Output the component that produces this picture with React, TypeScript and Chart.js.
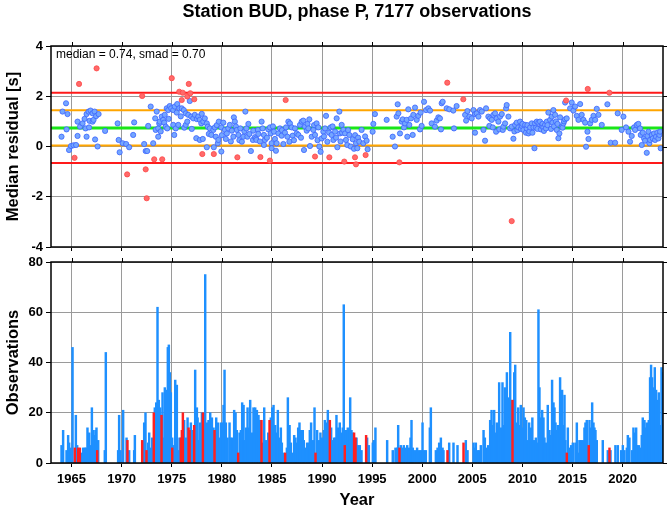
import React, { useEffect, useRef } from 'react';
import { Chart, registerables } from 'chart.js';

Chart.register(...registerables);

const FONT = "'Liberation Sans', Arial, Helvetica, sans-serif";

const titleText = 'Station BUD, phase P, 7177 observations';
const residualAxisTitle = 'Median residual [s]';
const countAxisTitle = 'Observations';
const yearAxisTitle = 'Year';

const medianValue = 0.74;
const smadValue = 0.7;

const yearTicks = [1965, 1970, 1975, 1980, 1985, 1990, 1995, 2000, 2005, 2010, 2015, 2020];
const xMin = 1962.95;
const xMax = 2024.03;

// ---- median residuals (year, seconds) ----
const blueResiduals1960s = [
  [1964.0, 0.39], [1964.1, 1.39], [1964.45, 1.72], [1964.5, 0.68], [1964.6, 1.29], [1964.75, -0.14],
  [1964.95, 0.02], [1965.2, 0.05], [1965.45, 0.06], [1965.6, 0.99], [1965.6, 0.42], [1965.85, 0.79],
  [1966.1, 0.92], [1966.3, 1.1], [1966.4, 0.72], [1966.5, 1.29], [1966.5, 0.39], [1966.7, 1.39],
  [1966.75, 0.76], [1966.8, 1.02], [1966.9, 1.43], [1967.1, 1.32], [1967.1, 0.99], [1967.2, 1.06],
  [1967.3, 1.39], [1967.35, 0.28], [1967.45, 1.21], [1967.6, 0.0], [1967.7, 1.29], [1968.35, 0.62],
  [1969.6, 0.92], [1969.7, 0.26], [1969.8, -0.23],
];
const blueResiduals1970s = [
  [1970.1, 0.13], [1970.45, 0.1], [1970.75, -0.03], [1971.15, 0.46], [1971.25, 0.96], [1972.25, 0.1],
  [1972.4, -0.18], [1972.55, -0.18], [1972.65, 0.82], [1972.9, 1.59], [1973.15, 0.13], [1973.35, 1.12],
  [1973.4, 0.66], [1973.5, 1.39], [1973.65, 0.39], [1973.65, 0.72], [1973.75, 0.92], [1973.8, 0.99],
  [1973.9, 0.6], [1974.0, 1.19], [1974.15, 1.06], [1974.25, 0.95], [1974.3, 1.26], [1974.4, 0.79],
  [1974.5, 1.52], [1974.55, 0.72], [1974.65, 1.45], [1974.7, 1.1], [1974.8, 1.61], [1974.95, 1.52],
  [1975.15, 1.45], [1975.15, 0.86], [1975.25, 0.46], [1975.3, 1.59], [1975.4, 0.72], [1975.5, 1.35],
  [1975.55, 1.69], [1975.65, 0.86], [1975.75, 1.52], [1975.9, 1.2], [1976.0, 1.52], [1976.2, 1.45],
  [1976.25, 0.75], [1976.4, 1.32], [1976.4, 0.86], [1976.55, 0.99], [1976.65, 1.26], [1976.8, 1.81],
  [1976.95, 1.19], [1977.0, 0.7], [1977.15, 1.12], [1977.3, 1.26], [1977.45, 0.33], [1977.5, 1.09],
  [1977.65, 1.19], [1977.8, 1.06], [1977.8, 0.26], [1977.95, 0.92], [1978.0, 1.3], [1978.1, 0.3],
  [1978.15, 0.99], [1978.3, 1.12], [1978.5, 0.92], [1978.5, -0.03], [1978.6, 0.79], [1978.7, 0.5],
  [1978.8, 0.72], [1978.95, 0.46], [1979.15, 0.66], [1979.2, -0.03], [1979.3, 0.76], [1979.4, 0.39],
  [1979.5, 0.85], [1979.6, 0.13], [1979.65, 0.26], [1979.7, 0.99], [1979.95, 0.76], [1979.95, -0.2],
];
const blueResiduals1980s = [
  [1980.0, 0.45], [1980.15, 0.95], [1980.3, 0.66], [1980.4, 0.3], [1980.5, 0.52], [1980.65, 0.72],
  [1980.8, 0.86], [1980.9, 0.2], [1981.0, 0.63], [1981.15, 0.39], [1981.2, 1.16], [1981.3, 0.99],
  [1981.4, 0.8], [1981.5, 0.66], [1981.65, 0.46], [1981.75, 0.25], [1981.85, 0.72], [1982.0, 0.19],
  [1982.15, 0.39], [1982.25, 0.6], [1982.35, 1.39], [1982.45, 0.72], [1982.55, 0.39], [1982.65, 0.9],
  [1982.75, 0.5], [1982.9, -0.18], [1983.1, 0.26], [1983.14, 0.63], [1983.3, 0.37], [1983.41, 0.32],
  [1983.45, 0.26], [1983.6, 0.66], [1983.64, 0.5], [1983.8, 0.2], [1983.97, 0.99], [1984.07, 0.72],
  [1984.2, 0.46], [1984.2, 0.06], [1984.3, 0.26], [1984.5, 0.35], [1984.64, 0.68], [1984.8, 0.76],
  [1984.87, 0.52], [1984.97, 0.13], [1984.97, -0.07], [1985.1, 0.8], [1985.2, 0.59], [1985.3, 0.3],
  [1985.4, -0.17], [1985.47, 0.13], [1985.64, 0.52], [1985.8, 0.72], [1985.97, 0.43], [1986.0, 0.65],
  [1986.14, 0.1], [1986.3, 0.55], [1986.4, 0.76], [1986.54, 0.39], [1986.64, 0.99], [1986.74, 0.19],
  [1986.8, 0.92], [1986.97, 0.76], [1987.07, 0.43], [1987.2, 0.25], [1987.3, 0.72], [1987.47, 0.52],
  [1987.64, 0.46], [1987.8, 0.86], [1987.9, 0.35], [1987.97, 0.99], [1988.13, 1.03], [1988.2, -0.14],
  [1988.3, 0.79], [1988.47, 0.63], [1988.55, 0.9], [1988.63, 0.72], [1988.73, 1.08], [1988.8, 0.02],
  [1988.97, 0.39], [1989.13, 0.66], [1989.2, 0.85], [1989.3, 0.46], [1989.46, 0.92], [1989.55, 0.25],
  [1989.63, 0.76], [1989.73, 0.0], [1989.86, -0.21], [1989.96, 0.32],
];
const blueResiduals1990s = [
  [1990.13, 0.59], [1990.2, 0.4], [1990.3, 0.72], [1990.4, 1.22], [1990.53, 0.19], [1990.7, 0.55],
  [1990.86, 0.76], [1990.96, 0.46], [1991.05, 0.8], [1991.13, 0.26], [1991.3, 0.59], [1991.4, 0.35],
  [1991.46, 1.12], [1991.53, -0.03], [1991.73, 1.39], [1991.79, 0.52], [1991.85, 0.2], [1991.96, 0.86],
  [1992.0, 0.55], [1992.13, 0.66], [1992.3, 0.52], [1992.39, 0.26], [1992.52, 0.06], [1992.6, 0.65],
  [1992.72, 0.46], [1992.86, 0.0], [1993.06, 0.29], [1993.19, -0.09], [1993.3, 0.45], [1993.39, 0.13],
  [1993.52, -0.07], [1993.6, 0.35], [1993.72, 0.19], [1993.95, 0.66], [1994.12, 0.13], [1994.3, 0.4],
  [1994.45, 0.23], [1994.55, -0.11], [1995.05, 0.59], [1995.12, 0.9], [1995.28, 1.29], [1996.45, 1.06],
  [1997.05, 0.39], [1997.28, 0.0], [1997.45, 1.19], [1997.55, 1.68], [1997.62, 1.32], [1997.78, 0.52],
  [1997.95, 0.99], [1998.05, 1.08], [1998.18, 0.76], [1998.28, 0.92], [1998.45, 1.06], [1998.51, 0.39],
  [1998.61, 1.48], [1998.71, 0.86], [1998.88, 1.12], [1999.05, 0.46], [1999.11, 1.26], [1999.28, 1.55],
  [1999.45, 1.06], [1999.61, 1.22], [1999.78, 0.68], [1999.84, 1.35], [1999.94, 0.82],
];
const blueResiduals2000s = [
  [2000.18, 1.78], [2000.38, 1.45], [2000.61, 1.52], [2000.78, 1.43], [2000.94, 0.92], [2001.27, 0.79],
  [2001.44, 1.03], [2001.61, 1.16], [2001.77, 1.12], [2001.87, 0.68], [2001.94, 1.72], [2002.04, 1.78],
  [2002.44, 1.52], [2002.7, 1.48], [2003.1, 1.43], [2003.17, 0.72], [2003.43, 1.61], [2004.28, 1.26],
  [2004.38, 1.03], [2004.51, 1.41], [2004.71, 1.19], [2004.94, 1.12], [2005.11, 1.45], [2005.27, 1.29],
  [2005.27, 0.55], [2005.44, 1.32], [2005.61, 1.19], [2005.77, 1.45], [2005.94, 1.39], [2006.11, 0.66],
  [2006.27, 0.23], [2006.37, 1.52], [2006.6, 1.19], [2006.7, 0.82], [2006.77, 1.12], [2006.94, 1.06],
  [2007.04, 0.76], [2007.1, 1.26], [2007.27, 1.32], [2007.37, 0.59], [2007.44, 1.12], [2007.6, 0.99],
  [2007.7, 0.68], [2007.77, 1.19], [2007.94, 1.29], [2008.04, 0.66], [2008.1, 0.79], [2008.27, 0.92],
  [2008.37, 1.52], [2008.43, 1.65], [2008.6, 1.19], [2008.77, 0.72], [2008.93, 0.79], [2009.1, 0.31],
  [2009.2, 0.6], [2009.27, 0.86], [2009.43, 0.95], [2009.5, 0.65], [2009.6, 0.76], [2009.77, 0.99],
  [2009.85, 0.7], [2009.93, 0.82],
];
const blueResiduals2010s = [
  [2010.0, 0.9], [2010.1, 0.66], [2010.27, 0.86], [2010.35, 0.55], [2010.43, 0.72], [2010.5, 0.85],
  [2010.6, 0.52], [2010.7, 0.6], [2010.77, 0.76], [2010.93, 0.92], [2011.0, 0.55], [2011.1, 0.76],
  [2011.2, -0.07], [2011.26, 0.92], [2011.35, 0.75], [2011.43, 0.99], [2011.5, 0.7], [2011.6, 0.95],
  [2011.76, 0.99], [2011.85, 0.68], [2011.93, 0.82], [2012.0, 0.9], [2012.09, 0.76], [2012.15, 0.62],
  [2012.26, 0.86], [2012.35, 0.72], [2012.43, 0.99], [2012.5, 0.85], [2012.59, 1.35], [2012.76, 1.06],
  [2012.85, 0.7], [2012.93, 1.19], [2013.0, 0.95], [2013.09, 1.45], [2013.15, 0.8], [2013.26, 1.26],
  [2013.35, 1.0], [2013.43, 0.66], [2013.5, 0.9], [2013.59, 0.33], [2013.69, 0.52], [2013.76, 1.16],
  [2013.93, 0.79], [2014.0, 0.75], [2014.09, 0.92], [2014.15, 1.0], [2014.26, 1.08], [2014.26, 1.75],
  [2014.42, 1.12], [2014.76, 1.52], [2014.92, 1.75], [2015.09, 1.43], [2015.26, 1.59], [2015.42, 1.22],
  [2015.59, 1.06], [2015.76, 1.69], [2015.92, 1.26], [2016.09, 1.06], [2016.26, 0.95], [2016.35, -0.01],
  [2016.49, 0.59], [2016.59, 0.3], [2016.76, 0.92], [2016.92, 1.06], [2017.09, 1.22], [2017.26, 1.06],
  [2017.42, 1.5], [2017.59, 1.26], [2017.92, 0.86], [2018.48, 1.68], [2018.81, 0.15], [2019.25, 0.15],
  [2019.51, 1.32], [2019.91, 0.66],
];
const blueResiduals2020s = [
  [2020.08, 1.19], [2020.34, 0.76], [2020.58, 0.59], [2020.74, 0.19], [2020.91, 0.42], [2021.14, 0.76],
  [2021.24, 0.66], [2021.41, 0.86], [2021.57, 0.9], [2021.74, 0.72], [2021.81, 0.46], [2021.91, 0.06],
  [2022.01, 0.55], [2022.14, 0.32], [2022.24, 0.23], [2022.41, -0.25], [2022.48, 0.42], [2022.58, 0.59],
  [2022.67, 0.13], [2022.74, 0.26], [2022.91, 0.46], [2023.01, 0.32], [2023.14, 0.52], [2023.24, 0.26],
  [2023.34, 0.39], [2023.47, 0.55], [2023.57, 0.32], [2023.67, 0.46], [2023.74, 0.59], [2023.8, -0.07],
];
const redResiduals = [
  [1965.3, -0.45], [1965.75, 2.49], [1967.5, 3.11], [1970.55, -1.11], [1972.05, 2.01], [1972.4, -0.91],
  [1972.5, -2.06], [1973.25, -0.51], [1974.05, -0.51], [1975.0, 2.72], [1975.75, 2.18], [1976.0, 1.85],
  [1976.1, 2.14], [1976.55, 1.99], [1976.7, 2.49], [1976.85, 2.12], [1977.25, 1.88], [1978.05, -0.3],
  [1979.2, -0.3], [1981.55, -0.43], [1983.85, -0.42], [1984.8, -0.56], [1986.37, 1.85], [1989.3, -0.4],
  [1990.73, -0.43], [1992.22, -0.6], [1993.29, -0.43], [1993.39, -0.71], [1994.35, -0.34], [1997.72, -0.63],
  [2002.5, 2.54], [2004.1, 1.88], [2008.93, -2.97], [2014.36, 1.83], [2016.52, 2.29], [2018.68, 2.14],
];

// ---- observation counts per bin (year, count) ----
const counts1960s = [
  [1964.0, 7], [1964.16, 13], [1964.5, 5], [1964.66, 11], [1964.76, 8], [1964.9, 6], [1965.1, 46],
  [1965.43, 19], [1965.56, 7], [1965.93, 4], [1966.16, 6], [1966.33, 6], [1966.43, 6], [1966.59, 14],
  [1966.76, 12], [1966.93, 7], [1967.03, 22], [1967.16, 13], [1967.26, 11], [1967.39, 13], [1967.49, 14],
  [1967.66, 9], [1968.32, 5], [1968.42, 44], [1969.65, 5], [1969.75, 19], [1969.89, 5],
];
const counts1970s = [
  [1970.15, 21], [1970.49, 10], [1970.75, 5], [1971.25, 5], [1971.32, 11], [1972.25, 16], [1972.38, 20],
  [1972.65, 8], [1972.75, 12], [1972.88, 6], [1973.05, 10], [1973.31, 22], [1973.45, 24], [1973.58, 62],
  [1973.71, 25], [1973.85, 22], [1974.08, 28], [1974.18, 10], [1974.31, 30], [1974.41, 29], [1974.51, 27],
  [1974.61, 46], [1974.71, 47], [1974.81, 36], [1974.91, 28], [1975.04, 10], [1975.14, 7], [1975.35, 33],
  [1975.51, 31], [1975.68, 5], [1975.78, 10], [1976.24, 17], [1976.44, 10], [1976.58, 18], [1976.91, 16],
  [1977.11, 13], [1977.34, 37], [1977.51, 22], [1977.58, 18], [1977.74, 9], [1977.84, 16], [1978.01, 20],
  [1978.24, 13], [1978.34, 75], [1978.51, 16], [1978.67, 17], [1978.84, 20], [1979.01, 18], [1979.17, 14],
  [1979.44, 18], [1979.6, 16], [1979.77, 10], [1979.9, 16],
];
const counts1980s = [
  [1980.1, 16], [1980.17, 23], [1980.27, 37], [1980.4, 16], [1980.57, 10], [1980.77, 16], [1980.9, 10],
  [1981.07, 10], [1981.23, 21], [1981.37, 20], [1981.5, 13], [1981.77, 12], [1981.9, 13], [1982.03, 24],
  [1982.17, 23], [1982.3, 9], [1982.43, 14], [1982.57, 22], [1982.7, 14], [1982.83, 25], [1983.0, 12],
  [1983.16, 22], [1983.33, 22], [1983.5, 21], [1983.66, 19], [1983.83, 17], [1984.1, 8], [1984.23, 22],
  [1984.43, 9], [1984.63, 12], [1984.89, 18], [1985.03, 22], [1985.16, 23], [1985.33, 15], [1985.49, 12],
  [1985.59, 21], [1985.76, 10], [1985.89, 14], [1985.99, 8], [1986.16, 4], [1986.49, 6], [1986.59, 26],
  [1986.76, 15], [1986.89, 8], [1987.06, 4], [1987.22, 11], [1987.35, 10], [1987.42, 8], [1987.62, 14],
  [1987.75, 16], [1987.92, 13], [1988.08, 13], [1988.18, 9], [1988.35, 6], [1988.51, 8], [1988.68, 8],
  [1988.78, 13], [1988.91, 16], [1989.08, 9], [1989.25, 22], [1989.51, 13], [1989.68, 9], [1989.84, 12],
];
const counts1990s = [
  [1990.01, 10], [1990.18, 13], [1990.28, 17], [1990.41, 16], [1990.58, 21], [1990.68, 17], [1990.91, 14],
  [1991.08, 9], [1991.21, 10], [1991.34, 10], [1991.44, 19], [1991.61, 14], [1991.77, 16], [1991.91, 12],
  [1992.07, 14], [1992.17, 63], [1992.41, 13], [1992.57, 14], [1992.67, 9], [1992.81, 26], [1992.94, 13],
  [1993.07, 12], [1993.44, 10], [1993.6, 7], [1993.77, 7], [1993.94, 5], [1994.5, 10], [1994.67, 7],
  [1995.07, 8], [1995.17, 9], [1995.33, 14], [1996.5, 9], [1997.06, 5], [1997.33, 6], [1997.5, 6],
  [1997.6, 15], [1997.86, 7], [1998.0, 6], [1998.16, 7], [1998.33, 6], [1998.5, 7], [1998.66, 6],
  [1998.83, 10], [1998.93, 17], [1999.06, 6], [1999.26, 5], [1999.49, 6], [1999.7, 5], [1999.86, 5],
];
const counts2000s = [
  [2000.03, 16], [2000.2, 5], [2000.36, 5], [2000.76, 14], [2000.86, 22], [2001.36, 5], [2001.53, 6],
  [2001.69, 8], [2001.86, 10], [2002.03, 6], [2002.12, 5], [2002.69, 8], [2003.12, 8], [2003.52, 7],
  [2004.35, 9], [2004.52, 5], [2005.12, 8], [2005.25, 6], [2005.35, 8], [2005.52, 5], [2005.68, 5],
  [2005.85, 7], [2006.12, 13], [2006.25, 10], [2006.42, 6], [2006.58, 7], [2006.78, 17], [2006.92, 21],
  [2007.05, 15], [2007.18, 21], [2007.31, 12], [2007.45, 16], [2007.58, 15], [2007.68, 32], [2007.85, 14],
  [2008.01, 32], [2008.11, 15], [2008.25, 30], [2008.35, 21], [2008.45, 36], [2008.58, 26], [2008.68, 18],
  [2008.78, 52], [2008.91, 25], [2009.18, 36], [2009.28, 39], [2009.44, 16], [2009.58, 22], [2009.68, 15],
  [2009.84, 23], [2009.98, 14],
];
const counts2010s = [
  [2010.11, 22], [2010.24, 18], [2010.38, 17], [2010.51, 9], [2010.67, 16], [2010.84, 14], [2010.99, 18],
  [2011.17, 9], [2011.34, 10], [2011.51, 8], [2011.6, 61], [2011.7, 30], [2011.87, 18], [2011.97, 21],
  [2012.1, 18], [2012.2, 10], [2012.37, 8], [2012.53, 23], [2012.7, 13], [2012.86, 11], [2012.96, 33],
  [2013.1, 24], [2013.2, 22], [2013.3, 16], [2013.43, 13], [2013.53, 15], [2013.63, 12], [2013.76, 34],
  [2013.86, 10], [2013.96, 29], [2014.1, 15], [2014.2, 27], [2014.29, 9], [2014.53, 14], [2014.69, 6],
  [2014.86, 7], [2015.03, 8], [2015.29, 8], [2015.43, 16], [2015.53, 4], [2015.69, 9], [2015.86, 9],
  [2016.02, 9], [2016.19, 14], [2016.29, 16], [2016.42, 17], [2016.69, 17], [2016.86, 14], [2016.96, 24],
  [2017.09, 16], [2017.19, 14], [2017.29, 13], [2017.42, 9], [2018.02, 9], [2018.52, 5], [2018.79, 5],
  [2019.28, 7], [2019.52, 7], [2019.85, 5],
];
const counts2020s = [
  [2020.02, 7], [2020.18, 5], [2020.42, 6], [2020.52, 11], [2020.68, 10], [2020.95, 5], [2021.08, 14],
  [2021.18, 12], [2021.35, 14], [2021.45, 7], [2021.61, 7], [2021.75, 6], [2021.91, 11], [2022.01, 18],
  [2022.18, 17], [2022.28, 14], [2022.41, 16], [2022.51, 14], [2022.61, 17], [2022.74, 34], [2022.84, 39],
  [2022.94, 34], [2023.08, 30], [2023.21, 38], [2023.34, 29], [2023.48, 25], [2023.61, 28], [2023.74, 15],
  [2023.88, 38], [2024.01, 36],
];
const flaggedCounts = [
  [1965.33, 6], [1965.66, 6], [1965.83, 6], [1967.56, 5], [1970.58, 9], [1972.05, 9], [1972.48, 5],
  [1973.21, 20], [1973.98, 19], [1975.05, 6], [1975.91, 10], [1976.01, 13], [1976.11, 20], [1976.68, 14],
  [1976.78, 13], [1977.24, 15], [1978.11, 20], [1979.27, 13], [1981.63, 4], [1983.96, 17], [1984.76, 17],
  [1986.32, 4], [1989.35, 4], [1990.78, 17], [1992.27, 7], [1993.2, 12], [1993.34, 10], [1994.4, 11],
  [1997.73, 6], [2002.52, 5], [2004.12, 8], [2009.01, 25], [2014.43, 4], [2016.62, 7], [2018.69, 6],
];

const toPoints = (arr: number[][]) => arr.map(([x, y]) => ({ x, y }));

const blueResiduals = [
  ...blueResiduals1960s, ...blueResiduals1970s, ...blueResiduals1980s, ...blueResiduals1990s,
  ...blueResiduals2000s, ...blueResiduals2010s, ...blueResiduals2020s,
];
const blueCounts = [
  ...counts1960s, ...counts1970s, ...counts1980s, ...counts1990s, ...counts2000s, ...counts2010s, ...counts2020s,
];

const framePlugin = {
  id: 'frame',
  afterDraw(chart: any) {
    const { ctx, chartArea: a, scales } = chart;
    ctx.save();
    ctx.strokeStyle = '#000';
    ctx.lineWidth = 1;
    ctx.beginPath();
    for (const v of yearTicks) {
      const x = Math.round(scales.x.getPixelForValue(v)) + 0.5;
      ctx.moveTo(x, a.top);
      ctx.lineTo(x, a.top - 4);
    }
    for (const t of scales.y.ticks) {
      const y = Math.round(scales.y.getPixelForValue(t.value)) + 0.5;
      ctx.moveTo(a.right, y);
      ctx.lineTo(a.right + 4, y);
    }
    ctx.stroke();
    ctx.lineWidth = 1.5;
    ctx.strokeRect(a.left, a.top, a.right - a.left, a.bottom - a.top);
    ctx.restore();
  },
};

const statsPlugin = {
  id: 'stats',
  afterDatasetsDraw(chart: any) {
    const { ctx, chartArea: a } = chart;
    ctx.save();
    ctx.font = `12px ${FONT}`;
    ctx.fillStyle = '#000';
    ctx.textAlign = 'left';
    ctx.textBaseline = 'alphabetic';
    ctx.fillText(`median = ${medianValue.toFixed(2)}, smad = ${smadValue.toFixed(2)}`, a.left + 5, a.top + 12);
    ctx.restore();
  },
};

const tickFont = { size: 13, weight: 'bold', family: FONT, lineHeight: '16px' };
const axisTitleFont = { size: 16.5, weight: 'bold', family: FONT };

const yearX = (hideLabels: boolean, height: number, withTitle: boolean) => ({
  type: 'linear',
  min: xMin,
  max: xMax,
  offset: false,
  afterBuildTicks: (s: any) => {
    s.ticks = yearTicks.map((v) => ({ value: v }));
  },
  afterFit: (s: any) => {
    s.height = height;
  },
  ticks: {
    display: !hideLabels,
    autoSkip: false,
    maxRotation: 0,
    padding: 4,
    color: '#000',
    font: tickFont,
    callback: (v: any) => String(v),
  },
  grid: { color: '#9a9a9a', lineWidth: 1, drawTicks: true, tickLength: 4, tickColor: '#000', offset: false },
  border: { display: false },
  title: {
    display: withTitle,
    text: yearAxisTitle,
    color: '#000',
    font: axisTitleFont,
    padding: { top: 0, bottom: 1 },
  },
});

const valueY = (min: number, max: number, step: number, title: string) => ({
  type: 'linear',
  min,
  max,
  afterFit: (s: any) => {
    s.width = 51;
  },
  ticks: {
    stepSize: step,
    padding: 3,
    color: '#000',
    font: tickFont,
    callback: (v: any) => String(v),
  },
  grid: { color: '#9a9a9a', lineWidth: 1, drawTicks: true, tickLength: 5, tickColor: '#000' },
  border: { display: false },
  title: {
    display: true,
    text: title,
    color: '#000',
    font: axisTitleFont,
    padding: { top: 4, bottom: 0 },
  },
});

function hLine(y: number, color: string, width: number) {
  return {
    type: 'scatter',
    data: [{ x: xMin, y }, { x: xMax, y }],
    showLine: true,
    borderColor: color,
    borderWidth: width,
    pointRadius: 0,
    order: 2,
  };
}

export default function App() {
  const topRef = useRef<HTMLCanvasElement>(null);
  const bottomRef = useRef<HTMLCanvasElement>(null);

  useEffect(() => {
    document.body.style.margin = '0';
    Chart.defaults.font.family = FONT;

    const top = new Chart(topRef.current as HTMLCanvasElement, {
      type: 'scatter',
      data: {
        datasets: [
          {
            data: toPoints(redResiduals),
            pointRadius: 2.6,
            pointBorderWidth: 0.8,
            backgroundColor: '#ff6a6a',
            borderColor: '#ff4545',
            order: 0,
          },
          {
            data: toPoints(blueResiduals),
            pointRadius: 2.6,
            pointBorderWidth: 0.8,
            backgroundColor: '#74a6ff',
            borderColor: '#3b63ff',
            order: 1,
          },
          hLine(medianValue + 2 * smadValue, '#ff1a1a', 2),
          hLine(medianValue + smadValue, '#ffa500', 2),
          hLine(medianValue, '#19e619', 3),
          hLine(medianValue - smadValue, '#ffa500', 2),
          hLine(medianValue - 2 * smadValue, '#ff1a1a', 2),
        ] as any,
      },
      options: {
        responsive: false,
        animation: false,
        events: [],
        layout: { padding: { left: 0, right: 6, top: 1, bottom: 0 } },
        plugins: {
          legend: { display: false },
          tooltip: { enabled: false },
          title: {
            display: true,
            text: titleText,
            fullSize: false,
            color: '#000',
            font: { size: 18, weight: 'bold', family: FONT, lineHeight: '22px' },
            padding: { top: 0, bottom: 23 },
          },
        },
        scales: {
          x: yearX(true, 11, false),
          y: valueY(-4, 4, 2, residualAxisTitle),
        } as any,
      },
      plugins: [framePlugin, statsPlugin],
    });

    const bottom = new Chart(bottomRef.current as HTMLCanvasElement, {
      type: 'bar',
      data: {
        datasets: [
          {
            data: toPoints(flaggedCounts),
            backgroundColor: '#ff2020',
            barThickness: 1.8,
            grouped: false,
            borderWidth: 0,
            order: 0,
          },
          {
            data: toPoints(blueCounts),
            backgroundColor: 'rgb(30,144,255)',
            barThickness: 1.8,
            grouped: false,
            borderWidth: 0,
            order: 1,
          },
        ] as any,
      },
      options: {
        responsive: false,
        animation: false,
        events: [],
        layout: { padding: { left: 0, right: 6, top: 11, bottom: 0 } },
        plugins: { legend: { display: false }, tooltip: { enabled: false } },
        scales: {
          x: yearX(false, 48, true),
          y: valueY(0, 80, 20, countAxisTitle),
        } as any,
      },
      plugins: [framePlugin],
    });

    return () => {
      top.destroy();
      bottom.destroy();
    };
  }, []);

  return (
    <div style={{ position: 'absolute', left: 0, top: 0, width: 669, height: 511, background: '#fff' }}>
      <canvas ref={topRef} width={669} height={258} style={{ position: 'absolute', left: 0, top: 0, display: 'block' }} />
      <canvas ref={bottomRef} width={669} height={260} style={{ position: 'absolute', left: 0, top: 251, display: 'block' }} />
    </div>
  );
}
